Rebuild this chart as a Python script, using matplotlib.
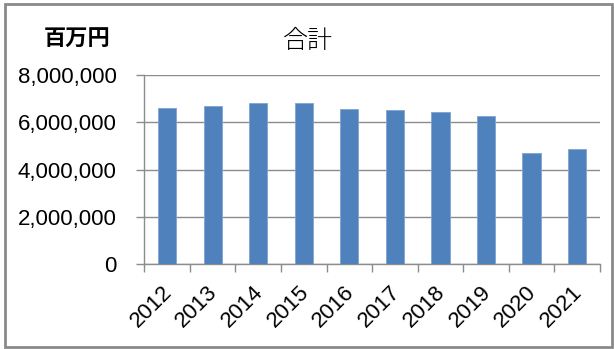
import matplotlib
matplotlib.use("Agg")
import matplotlib.pyplot as plt
import matplotlib.transforms as mtransforms
from matplotlib.patches import Rectangle
from matplotlib.ticker import FuncFormatter, FixedLocator

# 合計 (百万円) by year
years = ["2012", "2013", "2014", "2015", "2016", "2017", "2018", "2019", "2020", "2021"]
totals = [6620000, 6720000, 6810000, 6810000, 6570000, 6510000, 6430000, 6270000, 4690000, 4890000]
y_ticks = [0, 2000000, 4000000, 6000000, 8000000]

plt.rcParams['font.family'] = ['Liberation Sans', 'Noto Sans CJK JP', 'DejaVu Sans']
grid_color = "#8c8c8c"

fig = plt.figure(figsize=(6.14, 3.49), dpi=100)
ax = fig.add_axes([0.235, 0.2436, 0.742, 0.5406])

x = list(range(len(years)))
ax.bar(x, totals, width=0.4, color="#4F81BD", edgecolor="#7fa3cf", linewidth=0.6, zorder=3)

ax.set_xlim(-0.5, len(years) - 0.5)
ax.set_ylim(0, 8000000)
ax.set_yticks(y_ticks)
ax.yaxis.set_major_formatter(FuncFormatter(lambda v, p: f"{int(v):,}"))
ax.yaxis.grid(True, color=grid_color, linewidth=1.0, zorder=0)

# year labels sit under the bars, tick marks between categories
ax.set_xticks(x)
ax.set_xticklabels(years, rotation=45, ha="right", rotation_mode="anchor")
ax.xaxis.set_minor_locator(FixedLocator([i - 0.5 for i in range(len(years) + 1)]))
ax.tick_params(axis="x", which="major", length=0, pad=13, labelsize=16)
ax.tick_params(axis="x", which="minor", length=6, color=grid_color, width=1.0)
ax.tick_params(axis="y", length=6, color=grid_color, width=1.0, labelsize=16, pad=14)

shift = mtransforms.ScaledTranslation(-4 / 72, 0, fig.dpi_scale_trans)
for lbl in ax.get_xticklabels():
    lbl.set_transform(lbl.get_transform() + shift)

for side in ["top", "right"]:
    ax.spines[side].set_visible(False)
for side in ["left", "bottom"]:
    ax.spines[side].set_color(grid_color)
    ax.spines[side].set_linewidth(1.0)

fig.text(0.125, 0.888, "百万円", fontsize=16, fontweight="bold", ha="center", va="center",
         family=["Noto Sans CJK JP", "DejaVu Sans"])
fig.text(0.502, 0.883, "合計", fontsize=18, fontweight="light", ha="center", va="center",
         family=["Noto Sans CJK JP", "DejaVu Sans"])

# outer frame
fig.patches.append(Rectangle((0.008, 0.006), 0.988, 0.983, transform=fig.transFigure,
                             fill=False, edgecolor="#8a8a8a", linewidth=2.0))

fig.savefig("out.png", dpi=100)
